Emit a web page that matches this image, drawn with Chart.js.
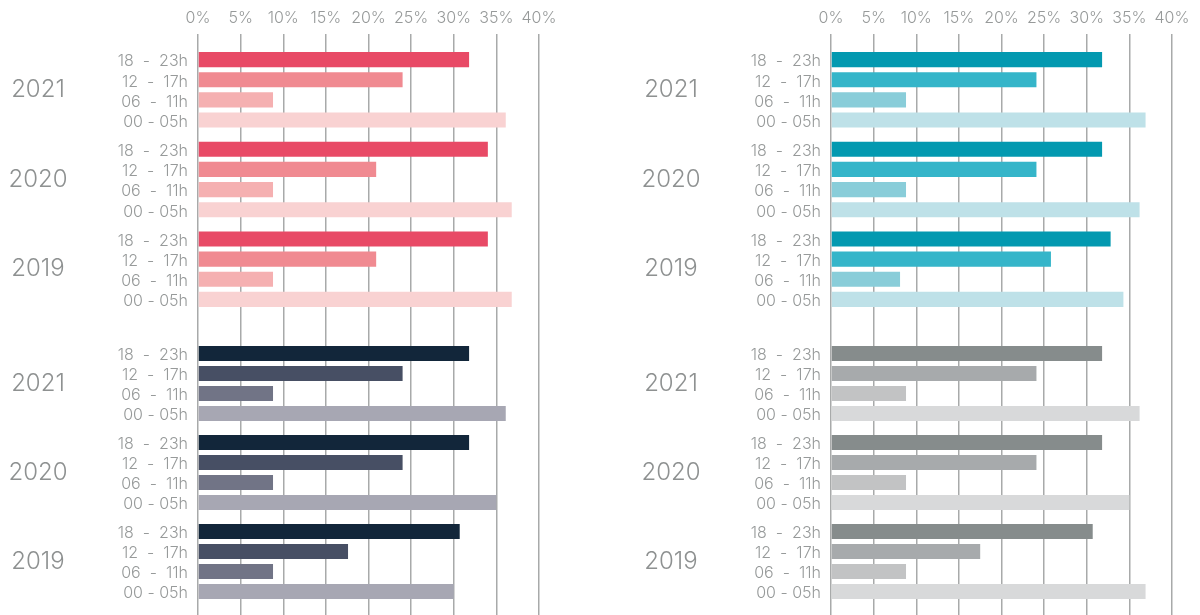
<!DOCTYPE html>
<html>
<head>
<meta charset="utf-8">
<script src="https://cdn.jsdelivr.net/npm/chart.js@4.4.1/dist/chart.umd.min.js"></script>
<style>
  html, body { margin: 0; padding: 0; background: #fff; }
  #wrap { position: relative; width: 1200px; height: 615px; overflow: hidden; }
  canvas { position: absolute; }
</style>
</head>
<body>
<div id="wrap">
  <canvas id="c1" width="600" height="314" style="left:0;top:0"></canvas>
  <canvas id="c2" width="600" height="314" style="left:600px;top:0"></canvas>
  <canvas id="c3" width="600" height="301" style="left:0;top:314px"></canvas>
  <canvas id="c4" width="600" height="301" style="left:600px;top:314px"></canvas>
</div>
<script>
var years = ["2021", "2020", "2019"];
var bands = ["18  -  23h", "12  -  17h", "06  -  11h", "00 - 05h"];

// one row per time band, values per year (2021, 2020, 2019), in %
var topLeft = [
  [31.8, 34.0, 34.0],
  [24.0, 20.9, 20.9],
  [8.8, 8.8, 8.8],
  [36.1, 36.8, 36.8]
];
var topRight = [
  [31.8, 31.8, 32.8],
  [24.1, 24.1, 25.8],
  [8.8, 8.8, 8.1],
  [36.9, 36.2, 34.3]
];
var bottomLeft = [
  [31.8, 31.8, 30.7],
  [24.0, 24.0, 17.6],
  [8.8, 8.8, 8.8],
  [36.1, 35.0, 30.0]
];
var bottomRight = [
  [31.8, 31.8, 30.7],
  [24.1, 24.1, 17.5],
  [8.8, 8.8, 8.8],
  [36.2, 35.0, 36.9]
];

var redColors = ["#e84a66", "#f08a91", "#f5b0b1", "#f9d2d2"];
var tealColors = ["#0399b0", "#35b5c9", "#89cdd9", "#bee1e8"];
var navyColors = ["#12263a", "#474f64", "#717486", "#a7a7b3"];
var greyColors = ["#868c8c", "#a7aaac", "#c2c3c4", "#d8d9da"];

var FONT = "Inter";
var gridColor = "#a8aaaa";
var textColor = "#979a9a";

// year label per group and time band label left of every bar
var sideLabels = {
  id: "sideLabels",
  afterDatasetsDraw: function(chart) {
    var ctx = chart.ctx;
    var left = chart.chartArea.left;
    var yScale = chart.scales.y;
    ctx.save();
    ctx.fillStyle = textColor;
    ctx.textBaseline = "middle";

    ctx.font = "300 16px " + FONT;
    ctx.textAlign = "right";
    chart.data.datasets.forEach(function(ds, i) {
      chart.getDatasetMeta(i).data.forEach(function(bar) {
        ctx.fillText(ds.label, left - 10, bar.y + 2);
      });
    });

    ctx.font = "300 24px " + FONT;
    ctx.fillStyle = "#8e9191";
    ctx.textAlign = "center";
    chart.data.labels.forEach(function(lab, i) {
      ctx.fillText(lab, left - 160, yScale.getPixelForValue(i));
    });
    ctx.restore();
  }
};

function makeChart(id, values, colors, yWidth, padRight, isTop) {
  var datasets = values.map(function(row, i) {
    return {
      label: bands[i],
      data: row,
      backgroundColor: colors[i],
      categoryPercentage: 80 / 89,
      barPercentage: 0.75
    };
  });

  var scales = {
    x: {
      type: "linear",
      position: "top",
      min: 0,
      max: 40,
      ticks: {
        stepSize: 5,
        display: isTop,
        padding: 6,
        color: textColor,
        font: { family: FONT, size: 16, weight: 300 },
        callback: function(v) { return v + "%"; }
      },
      grid: { color: gridColor, lineWidth: 1.5, tickLength: isTop ? 11 : 25 },
      border: { display: false }
    },
    y: {
      type: "category",
      labels: years,
      grid: { display: false },
      border: { display: false },
      ticks: { display: false },
      afterFit: function(s) { s.width = yWidth; }
    }
  };
  if (!isTop) {
    scales.x2 = {
      type: "linear",
      position: "bottom",
      min: 0,
      max: 40,
      ticks: { stepSize: 5, display: false },
      grid: { color: gridColor, lineWidth: 1.5, tickLength: 9, drawOnChartArea: false },
      border: { display: false }
    };
  }

  return new Chart(document.getElementById(id), {
    type: "bar",
    data: { labels: years, datasets: datasets },
    options: {
      indexAxis: "y",
      responsive: false,
      animation: false,
      devicePixelRatio: 1,
      layout: { padding: { top: isTop ? 2.8 : 0, right: padRight, bottom: 0, left: 0 } },
      plugins: { legend: { display: false }, tooltip: { enabled: false } },
      scales: scales
    },
    plugins: [sideLabels]
  });
}

makeChart("c1", topLeft, redColors, 198, 61, true);
makeChart("c2", topRight, tealColors, 231, 28, true);
makeChart("c3", bottomLeft, navyColors, 198, 61, false);
makeChart("c4", bottomRight, greyColors, 231, 28, false);
</script>
</body>
</html>
